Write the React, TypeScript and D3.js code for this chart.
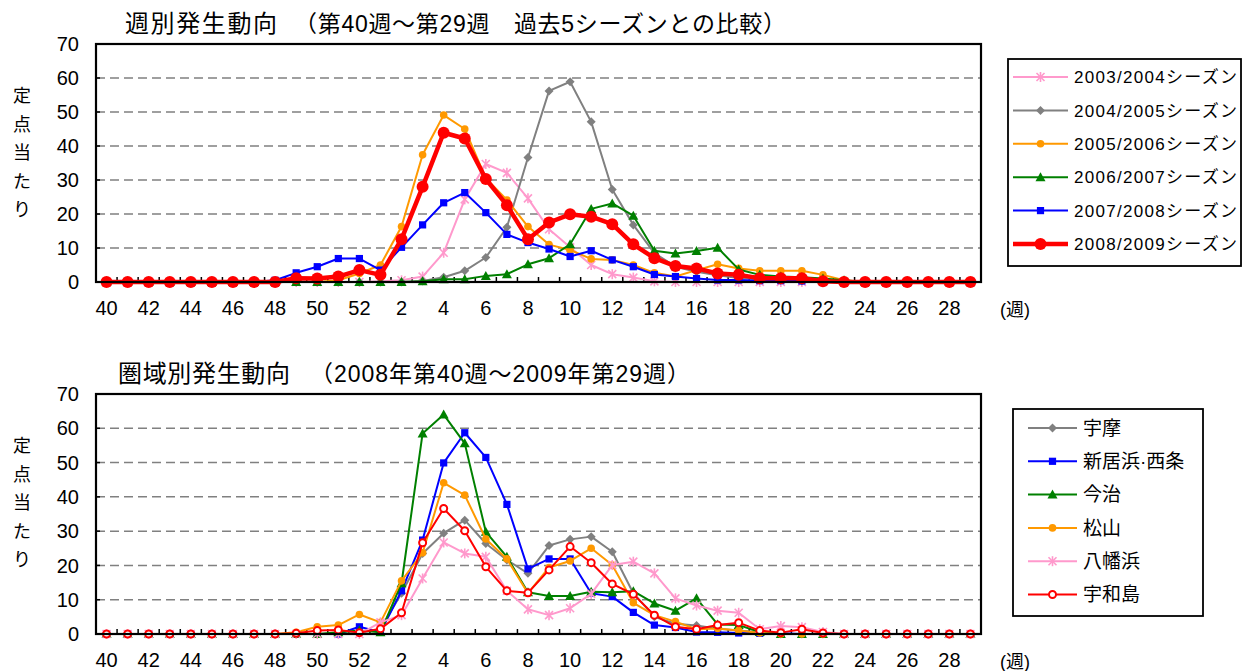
import React from 'react';
import * as d3 from 'd3';

// week categories (2008 wk40 .. 2009 wk29)
const weeks = [
  '40', '41', '42', '43', '44', '45', '46', '47', '48', '49', '50', '51', '52',
  '1', '2', '3', '4', '5', '6', '7', '8', '9', '10', '11', '12', '13', '14', '15',
  '16', '17', '18', '19', '20', '21', '22', '23', '24', '25', '26', '27', '28', '29',
];
const yTicks = [0, 10, 20, 30, 40, 50, 60, 70];

// top chart: past seasons
const s0304 = [0, 0, 0, 0, 0, 0, 0, 0, 0, 0, 0, 0, 0, 0.2, 0.5, 1.6, 8.6, 24.3, 34.7, 32.1, 24.6, 15.5, 10.2, 5, 2.3, 1.3, 0.2, 0, 0, 0, 0, 0, 0, 0, 0, 0, 0, 0, 0, 0, 0, 0];
const s0405 = [0, 0, 0, 0, 0, 0, 0, 0, 0, 0, 0, 0, 0, 0, 0, 0.3, 1.4, 3.3, 7.2, 16.1, 36.6, 56.2, 58.9, 47.1, 27.2, 16.8, 8.5, 4.5, 3, 2, 1.2, 0.8, 0.5, 0.3, 0, 0, 0, 0, 0, 0, 0, 0];
const s0506 = [0, 0, 0, 0, 0, 0, 0, 0, 0, 0, 0, 0.5, 2.5, 5, 16.3, 37.4, 49.1, 45, 30.5, 24.1, 16.3, 11, 9.4, 6.8, 6.5, 5, 2.7, 1.6, 3.5, 5.2, 4, 3.3, 3.3, 3.3, 2.1, 0.5, 0, 0, 0, 0, 0, 0];
const s0607 = [0, 0, 0, 0, 0, 0, 0, 0, 0, 0, 0, 0, 0, 0, 0, 0.2, 0.8, 0.8, 1.8, 2.3, 5.2, 7, 11.1, 21.5, 23.1, 19.5, 9.2, 8.4, 9.1, 10.1, 3.7, 2.1, 1.6, 1.4, 1, 0.5, 0, 0, 0, 0, 0, 0];
const s0708 = [0, 0, 0, 0, 0, 0, 0, 0, 0.5, 2.7, 4.5, 6.9, 6.9, 3.5, 10.2, 16.8, 23.3, 26.3, 20.4, 14, 11.6, 9.7, 7.5, 9.2, 6.5, 4.5, 2.2, 1.6, 1, 0.6, 0.6, 0.4, 0.4, 0.3, 0, 0, 0, 0, 0, 0, 0, 0];
const s0809 = [0, 0, 0, 0, 0, 0, 0, 0, 0, 1.1, 1, 1.6, 3.5, 2.1, 12.6, 28, 43.9, 42.2, 30.3, 22.6, 12.6, 17.5, 19.9, 19.2, 17, 11.1, 7, 4.7, 4, 2.5, 2.1, 1.1, 1.1, 1.1, 0.2, 0, 0, 0, 0, 0, 0, 0];

// bottom chart: areas
const uma = [0, 0, 0, 0, 0, 0, 0, 0, 0, 0, 0, 0, 0.3, 1.5, 11.9, 23.5, 29.4, 33.2, 26.4, 21.6, 17.7, 25.8, 27.6, 28.4, 24, 11.9, 5, 3, 2.5, 1.5, 1, 0.5, 0, 0, 0, 0, 0, 0, 0, 0, 0, 0];
const niihama = [0, 0, 0, 0, 0, 0, 0, 0, 0, 0, 0, 0, 2.1, 0.5, 12.6, 27.4, 49.9, 58.7, 51.5, 37.8, 19, 21.9, 21.9, 11.9, 10.9, 6.3, 2.6, 1.9, 0.6, 0.5, 0.3, 0.2, 0.2, 0, 0, 0, 0, 0, 0, 0, 0, 0];
const imabari = [0, 0, 0, 0, 0, 0, 0, 0, 0, 0, 0, 0.5, 1, 0.5, 14.8, 58.5, 64, 55.6, 29.8, 22.5, 12.2, 11.1, 11.1, 12.3, 12.2, 12.5, 8.9, 6.8, 10.4, 2.8, 2.6, 0.6, 0, 0, 0, 0, 0, 0, 0, 0, 0, 0];
const matsuyama = [0, 0, 0, 0, 0, 0, 0, 0, 0, 0.5, 2.1, 2.6, 5.7, 3.4, 15.5, 23.7, 44.1, 40.5, 27.7, 21.9, 11.9, 19.4, 21.3, 25, 20.1, 9.1, 5.5, 3.6, 1.4, 1.6, 1, 0.3, 0, 0, 0, 0, 0, 0, 0, 0, 0, 0];
const yawatahama = [0, 0, 0, 0, 0, 0, 0, 0, 0, 0, 0, 0, 0, 3.4, 5.5, 16.2, 26.7, 23.5, 22.5, 12.6, 7.2, 5.5, 7.5, 11.7, 20.1, 21.1, 17.7, 10.4, 8.3, 6.8, 6.2, 1.4, 2.3, 2, 0.6, 0, 0, 0, 0, 0, 0, 0];
const uwajima = [0, 0, 0, 0, 0, 0, 0, 0, 0, 0.2, 1, 1.2, 0.4, 1.5, 6.2, 26.6, 36.6, 30.1, 19.6, 12.6, 12, 18.7, 25.5, 20.8, 14.6, 11.6, 5.5, 2.1, 1.4, 2.6, 3.3, 1, 0.4, 1.4, 0.3, 0, 0, 0, 0, 0, 0, 0];

type Shape = 'star' | 'diamond' | 'circle' | 'triangle' | 'square' | 'bigCircle' | 'openCircle';
interface Series { name: string; values: number[]; color: string; shape: Shape; width: number; }

const topSeries: Series[] = [
  { name: '2003/2004シーズン', values: s0304, color: '#FF99CC', shape: 'star', width: 2 },
  { name: '2004/2005シーズン', values: s0405, color: '#808080', shape: 'diamond', width: 2 },
  { name: '2005/2006シーズン', values: s0506, color: '#FF9900', shape: 'circle', width: 2 },
  { name: '2006/2007シーズン', values: s0607, color: '#008000', shape: 'triangle', width: 2 },
  { name: '2007/2008シーズン', values: s0708, color: '#0000FF', shape: 'square', width: 2 },
  { name: '2008/2009シーズン', values: s0809, color: '#FF0000', shape: 'bigCircle', width: 4.5 },
];

const bottomSeries: Series[] = [
  { name: '宇摩', values: uma, color: '#808080', shape: 'diamond', width: 2 },
  { name: '新居浜·西条', values: niihama, color: '#0000FF', shape: 'square', width: 2 },
  { name: '今治', values: imabari, color: '#008000', shape: 'triangle', width: 2 },
  { name: '松山', values: matsuyama, color: '#FF9900', shape: 'circle', width: 2 },
  { name: '八幡浜', values: yawatahama, color: '#FF99CC', shape: 'star', width: 2 },
  { name: '宇和島', values: uwajima, color: '#FF0000', shape: 'openCircle', width: 2 },
];

const FONT = "'Liberation Sans', Arial, 'Noto Sans CJK JP', sans-serif";
const PL = 96;
const PR = 981;

const Marker: React.FC<{ x: number; y: number; shape: Shape; color: string }> = ({ x, y, shape, color }) => {
  switch (shape) {
    case 'star':
      return (
        <g stroke={color} strokeWidth={1.6}>
          <line x1={x - 4} y1={y - 4} x2={x + 4} y2={y + 4} />
          <line x1={x - 4} y1={y + 4} x2={x + 4} y2={y - 4} />
          <line x1={x} y1={y - 5} x2={x} y2={y + 5} />
        </g>
      );
    case 'diamond':
      return <path d={`M${x},${y - 4.5}L${x + 4.5},${y}L${x},${y + 4.5}L${x - 4.5},${y}Z`} fill={color} />;
    case 'circle':
      return <circle cx={x} cy={y} r={3.8} fill={color} />;
    case 'triangle':
      return <path d={`M${x},${y - 5}L${x + 5},${y + 4}L${x - 5},${y + 4}Z`} fill={color} />;
    case 'square':
      return <rect x={x - 3.6} y={y - 3.6} width={7.2} height={7.2} fill={color} />;
    case 'bigCircle':
      return <circle cx={x} cy={y} r={6} fill={color} />;
    case 'openCircle':
      return <circle cx={x} cy={y} r={3.5} fill="#fff" stroke={color} strokeWidth={2} />;
  }
  return null;
};

interface ChartProps {
  top: number;
  bottom: number;
  titleA: string;
  titleAX: number;
  titleAW: number;
  titleB: string;
  titleBX: number;
  titleBW: number;
  series: Series[];
  legend: { x: number; y: number; w: number; h: number; lineX: number[]; textX: number; rowY: number; rowH: number; fontSize: number; textW?: number };
}

const LineChart: React.FC<ChartProps> = ({ top, bottom, titleA, titleAX, titleAW, titleB, titleBX, titleBW, series, legend }) => {
  const x = d3.scalePoint<string>().domain(weeks).range([PL, PR]).padding(0.5);
  const y = d3.scaleLinear().domain([0, 70]).range([bottom, top]);
  const step = x.step();
  const line = d3.line<number>()
    .x((_, i) => x(weeks[i]) as number)
    .y(d => y(d));
  const ylabel = ['定', '点', '当', 'た', 'り'];
  const ylabelTop = top + 52;

  return (
    <g fontFamily={FONT}>
      {/* title */}
      <text x={titleAX} y={top - 12} fontSize={24} textLength={titleAW} lengthAdjust="spacing">{titleA}</text>
      <text x={titleBX} y={top - 12} fontSize={23} textLength={titleBW} lengthAdjust="spacing">{titleB}</text>

      {/* y axis title */}
      {ylabel.map((c, i) => (
        <text key={c} x={22} y={ylabelTop + i * 28.5} fontSize={18} textAnchor="middle" dy="0.35em">{c}</text>
      ))}

      {/* grid */}
      {yTicks.filter(t => t > 0 && t < 70).map(t => (
        <line key={t} x1={PL} x2={PR} y1={y(t)} y2={y(t)} stroke="#808080" strokeWidth={1.5} strokeDasharray="9,5" />
      ))}

      {/* y ticks + labels */}
      {yTicks.map(t => (
        <g key={t}>
          <line x1={PL} x2={PL + 4} y1={y(t)} y2={y(t)} stroke="#000" strokeWidth={1.5} />
          <text x={79} y={y(t)} dy="0.36em" fontSize={20} textAnchor="end">{t}</text>
        </g>
      ))}

      {/* x ticks (category boundaries) */}
      {d3.range(1, weeks.length).map(i => (
        <line key={i} x1={PL + i * step} x2={PL + i * step} y1={bottom} y2={bottom - 5} stroke="#000" strokeWidth={1.5} />
      ))}
      {weeks.map((w, i) => i % 2 === 0 ? (
        <text key={w} x={x(w)} y={bottom + 33} fontSize={20} textAnchor="middle">{w}</text>
      ) : null)}
      <text x={1000} y={bottom + 34} fontSize={18}>(週)</text>

      {/* series */}
      {series.map(s => (
        <g key={s.name}>
          <path d={line(s.values) || ''} fill="none" stroke={s.color} strokeWidth={s.width} strokeLinejoin="round" />
          {s.values.map((v, i) => (
            <Marker key={i} x={x(weeks[i]) as number} y={y(v)} shape={s.shape} color={s.color} />
          ))}
        </g>
      ))}

      {/* frame */}
      <rect x={PL} y={top} width={PR - PL} height={bottom - top} fill="none" stroke="#000" strokeWidth={2.2} />

      {/* legend */}
      <rect x={legend.x} y={legend.y} width={legend.w} height={legend.h} fill="#fff" stroke="#000" strokeWidth={1.8} />
      {series.map((s, i) => {
        const ry = legend.rowY + i * legend.rowH;
        const mx = (legend.lineX[0] + legend.lineX[1]) / 2;
        return (
          <g key={s.name}>
            <line x1={legend.lineX[0]} x2={legend.lineX[1]} y1={ry} y2={ry} stroke={s.color} strokeWidth={s.width === 2 ? 2 : 4.5} />
            <Marker x={mx} y={ry} shape={s.shape} color={s.color} />
            <text x={legend.textX} y={ry} dy="0.36em" fontSize={legend.fontSize}
              {...(legend.textW ? { textLength: legend.textW, lengthAdjust: 'spacing' } : {})}>{s.name}</text>
          </g>
        );
      })}
    </g>
  );
};

export default function App() {
  return (
    <svg width={1247} height={671} style={{ position: 'absolute', left: 0, top: 0, background: '#fff' }}>
      <LineChart
        top={44}
        bottom={282}
        titleA="週別発生動向"
        titleAX={125}
        titleAW={152}
        titleB="（第40週～第29週　過去5シーズンとの比較）"
        titleBX={294}
        titleBW={492}
        series={topSeries}
        legend={{ x: 1008, y: 59, w: 233, h: 207, lineX: [1013, 1068], textX: 1074, rowY: 77, rowH: 33.4, fontSize: 17, textW: 163 }}
      />
      <LineChart
        top={394}
        bottom={634}
        titleA="圏域別発生動向"
        titleAX={118}
        titleAW={172}
        titleB="（2008年第40週～2009年第29週）"
        titleBX={310}
        titleBW={380}
        series={bottomSeries}
        legend={{ x: 1013, y: 409, w: 190, h: 207, lineX: [1028, 1077], textX: 1083, rowY: 428, rowH: 33.3, fontSize: 19 }}
      />
    </svg>
  );
}
